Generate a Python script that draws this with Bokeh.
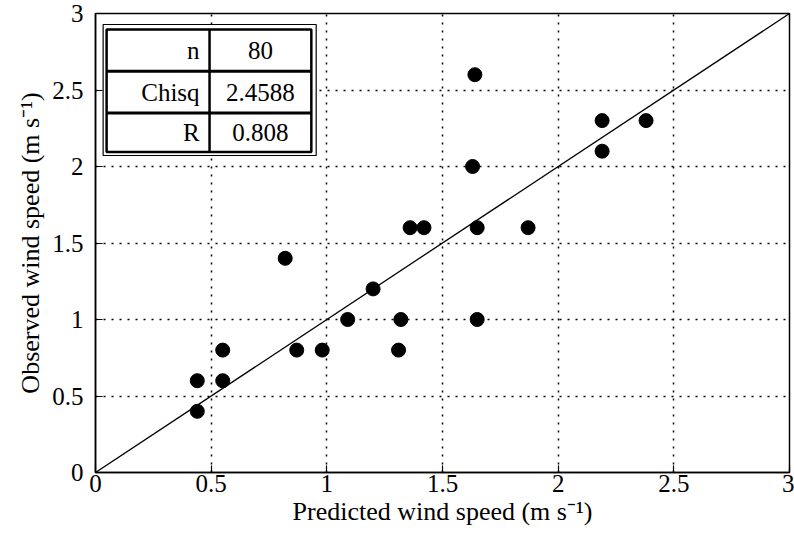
from bokeh.plotting import figure
from bokeh.models import Range1d, FixedTicker, Label
from bokeh.embed import file_html
from bokeh.resources import INLINE

# ---- data ----
predicted = [0.44, 0.44, 0.55, 0.55, 0.82, 0.87, 0.98, 1.09, 1.20, 1.31, 1.32,
             1.36, 1.42, 1.63, 1.64, 1.65, 1.65, 1.87, 2.19, 2.19, 2.38]
observed = [0.6, 0.4, 0.8, 0.6, 1.4, 0.8, 0.8, 1.0, 1.2, 0.8, 1.0,
            1.6, 1.6, 2.0, 2.6, 1.6, 1.0, 1.6, 2.1, 2.3, 2.3]
one_to_one = [0, 3]
tick_values = [0, 0.5, 1, 1.5, 2, 2.5, 3]
tick_labels = ["0", "0.5", "1", "1.5", "2", "2.5", "3"]
stat_names = ["n", "Chisq", "R"]
stat_values = ["80", "2.4588", "0.808"]

FONT = "Liberation Serif"

p = figure(width=794, height=535, output_backend="svg", toolbar_location=None,
           x_range=Range1d(0, 3), y_range=Range1d(0, 3))
p.min_border_left = 95
p.min_border_right = 5
p.min_border_top = 13
p.min_border_bottom = 63
p.background_fill_color = "white"
p.border_fill_color = "white"
p.outline_line_color = "black"
p.outline_line_width = 1.5

for ax in (p.xaxis[0], p.yaxis[0]):
    ax.ticker = FixedTicker(ticks=tick_values)
    ax.major_label_overrides = {v: l for v, l in zip(tick_values, tick_labels)}
    ax.major_tick_in = 7
    ax.major_tick_out = 0
    ax.minor_tick_in = 0
    ax.minor_tick_out = 0
    ax.axis_line_color = "black"
    ax.axis_line_width = 1.5
    ax.major_tick_line_color = "black"
    ax.major_tick_line_width = 1.2
    ax.major_label_text_font = FONT
    ax.major_label_text_font_size = "25px"
    ax.major_label_text_color = "black"
    ax.axis_label_text_font = FONT
    ax.axis_label_text_font_size = "26px"
    ax.axis_label_text_font_style = "normal"
    ax.axis_label_text_color = "black"

p.xaxis.axis_label = "Predicted wind speed (m s\u207b\u00b9)"
p.yaxis.axis_label = "Observed wind speed (m s\u207b\u00b9)"
p.xaxis.major_label_standoff = 2
p.yaxis.major_label_standoff = 12
p.xaxis.axis_label_standoff = 2
p.yaxis.axis_label_standoff = 4

for g in (p.xgrid[0], p.ygrid[0]):
    g.ticker = FixedTicker(ticks=tick_values)
    g.grid_line_color = "black"
    g.grid_line_dash = "2 6"
    g.grid_line_width = 1.5

p.line(one_to_one, one_to_one, line_color="black", line_width=1.3)
p.scatter(predicted, observed, size=14, color="black")

# ---- statistics table (layout in data units) ----
ox0, ox1, oy0, oy1 = 0.033, 0.954, 2.072, 2.928
ix0, ix1, iy0, iy1 = 0.048, 0.933, 2.094, 2.896
col_x = 0.493
row_y = [iy1, 2.623, 2.349, iy0]

p.quad(left=[ox0], right=[ox1], bottom=[oy0], top=[oy1],
       fill_color="white", line_color="black", line_width=1.2)
p.quad(left=[ix0], right=[ix1], bottom=[iy0], top=[iy1],
       fill_alpha=0, line_color="black", line_width=2.5)
p.segment(x0=[ix0, ix0], x1=[ix1, ix1], y0=row_y[1:3], y1=row_y[1:3],
          line_color="black", line_width=3)
p.segment(x0=[col_x], x1=[col_x], y0=[iy0], y1=[iy1],
          line_color="black", line_width=2.5)

for i, (nm, vl) in enumerate(zip(stat_names, stat_values)):
    yc = (row_y[i] + row_y[i + 1]) / 2
    p.add_layout(Label(x=col_x - 0.043, y=yc, text=nm, text_align="right",
                       text_baseline="middle", text_font=FONT,
                       text_font_size="25px", text_color="black"))
    p.add_layout(Label(x=(col_x + ix1) / 2, y=yc, text=vl, text_align="center",
                       text_baseline="middle", text_font=FONT,
                       text_font_size="25px", text_color="black"))

open("out.html", "w").write(file_html(p, INLINE))
